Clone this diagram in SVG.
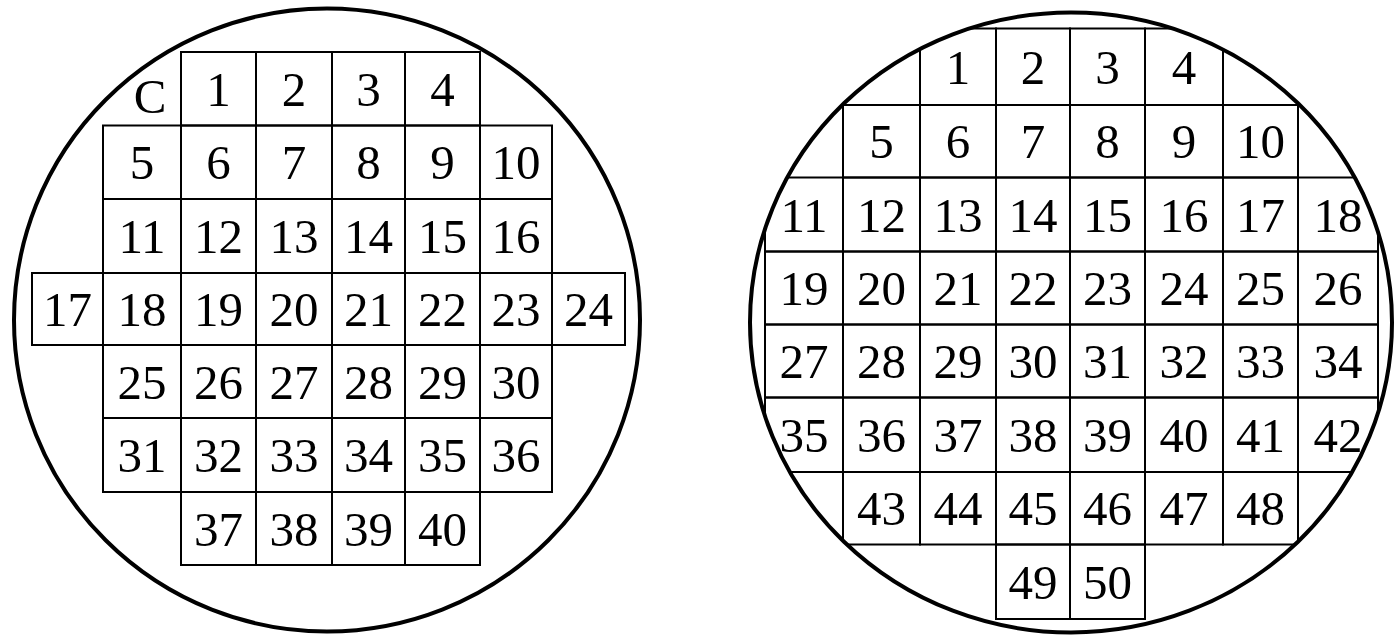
<svg xmlns="http://www.w3.org/2000/svg" width="1395" height="636" viewBox="0 0 1395 636">
<style>
.cell{fill:none;stroke:#000;stroke-width:2}
.cellR{fill:none;stroke:#000;stroke-width:2;clip-path:url(#clipR)}
.wafer{fill:none;stroke:#000;stroke-width:4}
.num{font-family:"Liberation Serif","Times New Roman",serif;font-size:49px;text-anchor:middle;fill:#000}
</style>
<defs>
<clipPath id="clipR"><ellipse cx="1071" cy="322.5" rx="321" ry="310"/></clipPath>
</defs>
<rect x="0" y="0" width="1395" height="636" fill="#fff"/>

<g id="left-wafer">
<ellipse class="wafer" cx="327" cy="320" rx="313" ry="311.5"/>
<text class="num" x="150" y="113">C</text>
<g id="L1"><rect class="cell" x="181" y="52" width="75" height="73.5"/><text class="num" x="218.5" y="106">1</text></g>
<g id="L2"><rect class="cell" x="256" y="52" width="76" height="73.5"/><text class="num" x="294" y="106">2</text></g>
<g id="L3"><rect class="cell" x="332" y="52" width="73" height="73.5"/><text class="num" x="368.5" y="106">3</text></g>
<g id="L4"><rect class="cell" x="405" y="52" width="75" height="73.5"/><text class="num" x="442.5" y="106">4</text></g>

<g id="L5"><rect class="cell" x="103" y="125.5" width="78" height="73.5"/><text class="num" x="142" y="179.25">5</text></g>
<g id="L6"><rect class="cell" x="181" y="125.5" width="75" height="73.5"/><text class="num" x="218.5" y="179.25">6</text></g>
<g id="L7"><rect class="cell" x="256" y="125.5" width="76" height="73.5"/><text class="num" x="294" y="179.25">7</text></g>
<g id="L8"><rect class="cell" x="332" y="125.5" width="73" height="73.5"/><text class="num" x="368.5" y="179.25">8</text></g>
<g id="L9"><rect class="cell" x="405" y="125.5" width="75" height="73.5"/><text class="num" x="442.5" y="179.25">9</text></g>
<g id="L10"><rect class="cell" x="480" y="125.5" width="72" height="73.5"/><text class="num" x="516" y="179.25">10</text></g>

<g id="L11"><rect class="cell" x="103" y="199" width="78" height="74"/><text class="num" x="142" y="253">11</text></g>
<g id="L12"><rect class="cell" x="181" y="199" width="75" height="74"/><text class="num" x="218.5" y="253">12</text></g>
<g id="L13"><rect class="cell" x="256" y="199" width="76" height="74"/><text class="num" x="294" y="253">13</text></g>
<g id="L14"><rect class="cell" x="332" y="199" width="73" height="74"/><text class="num" x="368.5" y="253">14</text></g>
<g id="L15"><rect class="cell" x="405" y="199" width="75" height="74"/><text class="num" x="442.5" y="253">15</text></g>
<g id="L16"><rect class="cell" x="480" y="199" width="72" height="74"/><text class="num" x="516" y="253">16</text></g>

<g id="L17"><rect class="cell" x="32" y="273" width="71" height="72"/><text class="num" x="67.5" y="326">17</text></g>
<g id="L18"><rect class="cell" x="103" y="273" width="78" height="72"/><text class="num" x="142" y="326">18</text></g>
<g id="L19"><rect class="cell" x="181" y="273" width="75" height="72"/><text class="num" x="218.5" y="326">19</text></g>
<g id="L20"><rect class="cell" x="256" y="273" width="76" height="72"/><text class="num" x="294" y="326">20</text></g>
<g id="L21"><rect class="cell" x="332" y="273" width="73" height="72"/><text class="num" x="368.5" y="326">21</text></g>
<g id="L22"><rect class="cell" x="405" y="273" width="75" height="72"/><text class="num" x="442.5" y="326">22</text></g>
<g id="L23"><rect class="cell" x="480" y="273" width="72" height="72"/><text class="num" x="516" y="326">23</text></g>
<g id="L24"><rect class="cell" x="552" y="273" width="73" height="72"/><text class="num" x="588.5" y="326">24</text></g>

<g id="L25"><rect class="cell" x="103" y="345" width="78" height="73"/><text class="num" x="142" y="398.5">25</text></g>
<g id="L26"><rect class="cell" x="181" y="345" width="75" height="73"/><text class="num" x="218.5" y="398.5">26</text></g>
<g id="L27"><rect class="cell" x="256" y="345" width="76" height="73"/><text class="num" x="294" y="398.5">27</text></g>
<g id="L28"><rect class="cell" x="332" y="345" width="73" height="73"/><text class="num" x="368.5" y="398.5">28</text></g>
<g id="L29"><rect class="cell" x="405" y="345" width="75" height="73"/><text class="num" x="442.5" y="398.5">29</text></g>
<g id="L30"><rect class="cell" x="480" y="345" width="72" height="73"/><text class="num" x="516" y="398.5">30</text></g>

<g id="L31"><rect class="cell" x="103" y="418" width="78" height="74"/><text class="num" x="142" y="472">31</text></g>
<g id="L32"><rect class="cell" x="181" y="418" width="75" height="74"/><text class="num" x="218.5" y="472">32</text></g>
<g id="L33"><rect class="cell" x="256" y="418" width="76" height="74"/><text class="num" x="294" y="472">33</text></g>
<g id="L34"><rect class="cell" x="332" y="418" width="73" height="74"/><text class="num" x="368.5" y="472">34</text></g>
<g id="L35"><rect class="cell" x="405" y="418" width="75" height="74"/><text class="num" x="442.5" y="472">35</text></g>
<g id="L36"><rect class="cell" x="480" y="418" width="72" height="74"/><text class="num" x="516" y="472">36</text></g>

<g id="L37"><rect class="cell" x="181" y="492" width="75" height="73"/><text class="num" x="218.5" y="545.5">37</text></g>
<g id="L38"><rect class="cell" x="256" y="492" width="76" height="73"/><text class="num" x="294" y="545.5">38</text></g>
<g id="L39"><rect class="cell" x="332" y="492" width="73" height="73"/><text class="num" x="368.5" y="545.5">39</text></g>
<g id="L40"><rect class="cell" x="405" y="492" width="75" height="73"/><text class="num" x="442.5" y="545.5">40</text></g>
</g>

<g id="right-wafer">
<g id="R1"><rect class="cellR" x="920" y="28.5" width="76" height="76.5"/><text class="num" x="958" y="83.75">1</text></g>
<g id="R2"><rect class="cellR" x="996" y="28.5" width="74" height="76.5"/><text class="num" x="1033" y="83.75">2</text></g>
<g id="R3"><rect class="cellR" x="1070" y="28.5" width="75" height="76.5"/><text class="num" x="1107.5" y="83.75">3</text></g>
<g id="R4"><rect class="cellR" x="1145" y="28.5" width="78" height="76.5"/><text class="num" x="1184" y="83.75">4</text></g>

<g id="R5"><rect class="cellR" x="843" y="105" width="77" height="72.5"/><text class="num" x="881.5" y="158.25">5</text></g>
<g id="R6"><rect class="cellR" x="920" y="105" width="76" height="72.5"/><text class="num" x="958" y="158.25">6</text></g>
<g id="R7"><rect class="cellR" x="996" y="105" width="74" height="72.5"/><text class="num" x="1033" y="158.25">7</text></g>
<g id="R8"><rect class="cellR" x="1070" y="105" width="75" height="72.5"/><text class="num" x="1107.5" y="158.25">8</text></g>
<g id="R9"><rect class="cellR" x="1145" y="105" width="78" height="72.5"/><text class="num" x="1184" y="158.25">9</text></g>
<g id="R10"><rect class="cellR" x="1223" y="105" width="75" height="72.5"/><text class="num" x="1260.5" y="158.25">10</text></g>

<g id="R11"><rect class="cellR" x="765" y="177.5" width="78" height="74"/><text class="num" x="804" y="231.5">11</text></g>
<g id="R12"><rect class="cellR" x="843" y="177.5" width="77" height="74"/><text class="num" x="881.5" y="231.5">12</text></g>
<g id="R13"><rect class="cellR" x="920" y="177.5" width="76" height="74"/><text class="num" x="958" y="231.5">13</text></g>
<g id="R14"><rect class="cellR" x="996" y="177.5" width="74" height="74"/><text class="num" x="1033" y="231.5">14</text></g>
<g id="R15"><rect class="cellR" x="1070" y="177.5" width="75" height="74"/><text class="num" x="1107.5" y="231.5">15</text></g>
<g id="R16"><rect class="cellR" x="1145" y="177.5" width="78" height="74"/><text class="num" x="1184" y="231.5">16</text></g>
<g id="R17"><rect class="cellR" x="1223" y="177.5" width="75" height="74"/><text class="num" x="1260.5" y="231.5">17</text></g>
<g id="R18"><rect class="cellR" x="1298" y="177.5" width="80" height="74"/><text class="num" x="1338" y="231.5">18</text></g>

<g id="R19"><rect class="cellR" x="765" y="251.5" width="78" height="73"/><text class="num" x="804" y="305">19</text></g>
<g id="R20"><rect class="cellR" x="843" y="251.5" width="77" height="73"/><text class="num" x="881.5" y="305">20</text></g>
<g id="R21"><rect class="cellR" x="920" y="251.5" width="76" height="73"/><text class="num" x="958" y="305">21</text></g>
<g id="R22"><rect class="cellR" x="996" y="251.5" width="74" height="73"/><text class="num" x="1033" y="305">22</text></g>
<g id="R23"><rect class="cellR" x="1070" y="251.5" width="75" height="73"/><text class="num" x="1107.5" y="305">23</text></g>
<g id="R24"><rect class="cellR" x="1145" y="251.5" width="78" height="73"/><text class="num" x="1184" y="305">24</text></g>
<g id="R25"><rect class="cellR" x="1223" y="251.5" width="75" height="73"/><text class="num" x="1260.5" y="305">25</text></g>
<g id="R26"><rect class="cellR" x="1298" y="251.5" width="80" height="73"/><text class="num" x="1338" y="305">26</text></g>

<g id="R27"><rect class="cellR" x="765" y="324.5" width="78" height="73"/><text class="num" x="804" y="378">27</text></g>
<g id="R28"><rect class="cellR" x="843" y="324.5" width="77" height="73"/><text class="num" x="881.5" y="378">28</text></g>
<g id="R29"><rect class="cellR" x="920" y="324.5" width="76" height="73"/><text class="num" x="958" y="378">29</text></g>
<g id="R30"><rect class="cellR" x="996" y="324.5" width="74" height="73"/><text class="num" x="1033" y="378">30</text></g>
<g id="R31"><rect class="cellR" x="1070" y="324.5" width="75" height="73"/><text class="num" x="1107.5" y="378">31</text></g>
<g id="R32"><rect class="cellR" x="1145" y="324.5" width="78" height="73"/><text class="num" x="1184" y="378">32</text></g>
<g id="R33"><rect class="cellR" x="1223" y="324.5" width="75" height="73"/><text class="num" x="1260.5" y="378">33</text></g>
<g id="R34"><rect class="cellR" x="1298" y="324.5" width="80" height="73"/><text class="num" x="1338" y="378">34</text></g>

<g id="R35"><rect class="cellR" x="765" y="397.5" width="78" height="74.5"/><text class="num" x="804" y="451.75">35</text></g>
<g id="R36"><rect class="cellR" x="843" y="397.5" width="77" height="74.5"/><text class="num" x="881.5" y="451.75">36</text></g>
<g id="R37"><rect class="cellR" x="920" y="397.5" width="76" height="74.5"/><text class="num" x="958" y="451.75">37</text></g>
<g id="R38"><rect class="cellR" x="996" y="397.5" width="74" height="74.5"/><text class="num" x="1033" y="451.75">38</text></g>
<g id="R39"><rect class="cellR" x="1070" y="397.5" width="75" height="74.5"/><text class="num" x="1107.5" y="451.75">39</text></g>
<g id="R40"><rect class="cellR" x="1145" y="397.5" width="78" height="74.5"/><text class="num" x="1184" y="451.75">40</text></g>
<g id="R41"><rect class="cellR" x="1223" y="397.5" width="75" height="74.5"/><text class="num" x="1260.5" y="451.75">41</text></g>
<g id="R42"><rect class="cellR" x="1298" y="397.5" width="80" height="74.5"/><text class="num" x="1338" y="451.75">42</text></g>

<g id="R43"><rect class="cellR" x="843" y="472" width="77" height="72.5"/><text class="num" x="881.5" y="525.25">43</text></g>
<g id="R44"><rect class="cellR" x="920" y="472" width="76" height="72.5"/><text class="num" x="958" y="525.25">44</text></g>
<g id="R45"><rect class="cellR" x="996" y="472" width="74" height="72.5"/><text class="num" x="1033" y="525.25">45</text></g>
<g id="R46"><rect class="cellR" x="1070" y="472" width="75" height="72.5"/><text class="num" x="1107.5" y="525.25">46</text></g>
<g id="R47"><rect class="cellR" x="1145" y="472" width="78" height="72.5"/><text class="num" x="1184" y="525.25">47</text></g>
<g id="R48"><rect class="cellR" x="1223" y="472" width="75" height="72.5"/><text class="num" x="1260.5" y="525.25">48</text></g>

<g id="R49"><rect class="cellR" x="996" y="544.5" width="74" height="74.5"/><text class="num" x="1033" y="598.75">49</text></g>
<g id="R50"><rect class="cellR" x="1070" y="544.5" width="75" height="74.5"/><text class="num" x="1107.5" y="598.75">50</text></g>

<ellipse class="wafer" cx="1071" cy="322.5" rx="321" ry="310"/>
</g>
</svg>
